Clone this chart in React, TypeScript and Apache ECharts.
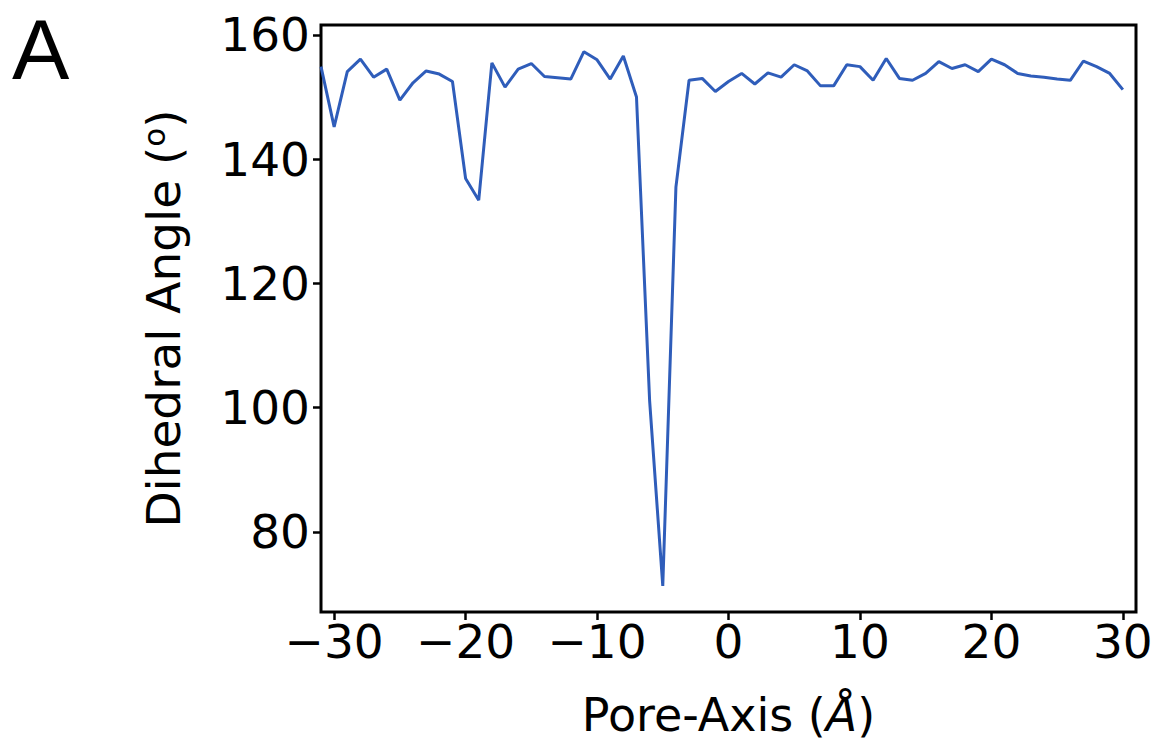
import React, { useEffect, useRef } from "react";
import * as echarts from "echarts";

const poreAxis: number[] = [
  -31, -30, -29, -28, -27, -26, -25, -24, -23, -22, -21, -20, -19, -18, -17, -16,
  -15, -14, -13, -12, -11, -10, -9, -8, -7, -6, -5, -4, -3, -2, -1, 0,
  1, 2, 3, 4, 5, 6, 7, 8, 9, 10, 11, 12, 13, 14, 15, 16,
  17, 18, 19, 20, 21, 22, 23, 24, 25, 26, 27, 28, 29, 30,
];

const dihedral: number[] = [
  154.9, 145.2, 154.1, 156.1, 153.2, 154.5, 149.5, 152.3, 154.2, 153.7, 152.5, 136.9, 133.4, 155.5, 151.6, 154.5,
  155.4, 153.3, 153.1, 152.9, 157.3, 156.0, 152.9, 156.6, 150.0, 101.1, 71.3, 135.5, 152.7, 153.0, 150.9, 152.5,
  153.8, 152.1, 153.9, 153.2, 155.2, 154.2, 151.8, 151.8, 155.2, 154.9, 152.7, 156.2, 153.0, 152.7, 153.8, 155.7,
  154.6, 155.2, 154.1, 156.1, 155.2, 153.8, 153.4, 153.2, 152.9, 152.7, 155.8, 154.9, 153.8, 151.2,
];

const xTicks: number[] = [-30, -20, -10, 0, 10, 20, 30];
const yTicks: number[] = [80, 100, 120, 140, 160];

export default function App() {
  const ref = useRef<HTMLDivElement>(null);
  useEffect(() => {
    if (!ref.current) return;
    const chart = echarts.init(ref.current, undefined, { renderer: "svg" });
    const font = "DejaVu Sans";
    chart.setOption({
      animation: false,
      backgroundColor: "#ffffff",
      grid: {
        left: 321,
        top: 25,
        right: 20,
        bottom: 134,
        outerBoundsMode: "none",
        containLabel: false,
        show: true,
        borderColor: "#000",
        borderWidth: 3,
        backgroundColor: "transparent",
      },
      xAxis: {
        type: "value",
        min: -31,
        max: 31,
        axisLine: { show: false, onZero: false },
        splitLine: { show: false },
        axisTick: {
          show: true,
          inside: false,
          length: 8,
          lineStyle: { color: "#000", width: 2.5 },
          customValues: xTicks,
        },
        axisLabel: {
          customValues: xTicks,
          fontFamily: font,
          fontSize: 47,
          color: "#000",
          margin: 6,
          formatter: (v: number) => (v < 0 ? "\u2212" + Math.abs(v) : String(v)),
        },
        name: "Pore-Axis ({it|Å})",
        nameLocation: "middle",
        nameGap: 82,
        nameTextStyle: {
          fontFamily: font,
          fontSize: 46,
          lineHeight: 42,
          color: "#000",
          rich: {
            it: { fontFamily: font, fontSize: 46, lineHeight: 42, fontStyle: "italic", color: "#000" },
          },
        },
      },
      yAxis: {
        type: "value",
        min: 67.1,
        max: 161.6,
        axisLine: { show: false, onZero: false },
        splitLine: { show: false },
        axisTick: {
          show: true,
          inside: false,
          length: 8,
          lineStyle: { color: "#000", width: 2.5 },
          customValues: yTicks,
        },
        axisLabel: {
          customValues: yTicks,
          fontFamily: font,
          fontSize: 47,
          color: "#000",
          margin: 11,
        },
        name: "Dihedral Angle ({sup|o})",
        nameLocation: "middle",
        nameGap: 132,
        nameTextStyle: {
          fontFamily: font,
          fontSize: 47,
          color: "#000",
          rich: {
            sup: { fontFamily: font, fontSize: 31, color: "#000", verticalAlign: "top", padding: [0, 0, 20, 0] },
          },
        },
      },
      graphic: [
        {
          type: "text",
          left: 12,
          top: 6,
          style: { text: "A", fontFamily: "Liberation Sans", fontSize: 86, fill: "#000" },
        },
      ],
      series: [
        {
          type: "line",
          data: poreAxis.map((x, i) => [x, dihedral[i]]),
          showSymbol: false,
          symbol: "none",
          lineStyle: { color: "#2f5dba", width: 3 },
          clip: true,
        },
      ],
    });
    return () => chart.dispose();
  }, []);
  return (
    <div
      ref={ref}
      style={{ position: "fixed", left: 0, top: 0, width: 1156, height: 746 }}
    />
  );
}
